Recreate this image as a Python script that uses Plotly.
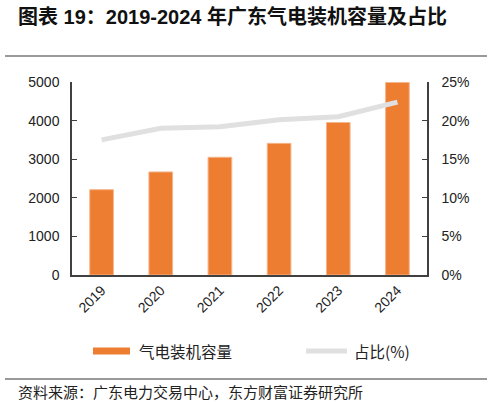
import plotly.graph_objs as go

# data
years = ["2019", "2020", "2021", "2022", "2023", "2024"]
capacity = [2210, 2670, 3050, 3410, 3950, 4990]
share = [0.175, 0.190, 0.192, 0.201, 0.205, 0.224]

title_text = "图表 19：2019-2024 年广东气电装机容量及占比"
source_text = "资料来源：广东电力交易中心，东方财富证券研究所"
bar_name = "气电装机容量"
line_name = "占比(%)"

W, H = 492, 403
L, R, T, B = 72, 427, 82, 275   # plot area in pixels

ORANGE = "#ED7D31"
LGREY = "#E0E0E0"
FONT = "Liberation Sans, Arial, Noto Sans CJK SC, sans-serif"


# pixel -> paper coordinates
def px(x):
    return (x - L) / (R - L)

def py(y):
    return (B - y) / (B - T)


bar_data = go.Bar(x=years, y=capacity, name=bar_name, width=0.4,
                  marker=dict(color=ORANGE, line=dict(color="#F6B48A", width=1)),
                  showlegend=False)
line_data = go.Scatter(x=years, y=share, name=line_name, yaxis="y2", mode="lines",
                       line=dict(color=LGREY, width=5), showlegend=False)

layout = go.Layout(
    width=W, height=H,
    margin=dict(l=L, r=W - R, t=T, b=H - B, pad=0),
    paper_bgcolor="white", plot_bgcolor="white",
    font=dict(family=FONT, size=14, color="#222"),
    xaxis=dict(showline=True, linecolor="#404040", linewidth=1.5, ticks="",
               tickangle=-45, showgrid=False, zeroline=False,
               tickfont=dict(size=14, color="#222")),
    yaxis=dict(range=[0, 5000], dtick=1000, showline=True, linecolor="#404040",
               linewidth=1.5, ticks="inside", ticklen=5, tickcolor="#404040",
               showgrid=False, zeroline=False, ticklabelstandoff=8,
               tickfont=dict(size=14, color="#222")),
    yaxis2=dict(range=[0, 0.25], dtick=0.05, tickformat=".0%", overlaying="y",
                side="right", showline=True, linecolor="#404040", linewidth=1.5,
                ticks="inside", ticklen=5, tickcolor="#404040", showgrid=False,
                zeroline=False, ticklabelstandoff=10,
                tickfont=dict(size=14, color="#222")),
)

fig = go.Figure(data=[bar_data, line_data], layout=layout)

# separator lines at top and bottom
for yy in (56, 379):
    fig.add_shape(type="line", xref="paper", yref="paper",
                  x0=px(5), x1=px(487), y0=py(yy), y1=py(yy),
                  line=dict(color="#999999", width=2))

# hand drawn legend
fig.add_shape(type="rect", xref="paper", yref="paper",
              x0=px(93), x1=px(130), y0=py(354.5), y1=py(347.5),
              line=dict(width=0), fillcolor=ORANGE)
fig.add_shape(type="line", xref="paper", yref="paper",
              x0=px(306), x1=px(347), y0=py(351), y1=py(351),
              line=dict(color=LGREY, width=5))
fig.add_annotation(text=bar_name, xref="paper", yref="paper", x=px(137), y=py(351),
                   xanchor="left", yanchor="middle", showarrow=False,
                   font=dict(family="Noto Sans CJK SC", size=15.5, color="#222"))
fig.add_annotation(text=line_name, xref="paper", yref="paper", x=px(352), y=py(351),
                   xanchor="left", yanchor="middle", showarrow=False,
                   font=dict(family="Noto Sans CJK SC", size=15.5, color="#222"))

# title and source
fig.add_annotation(text="<b>" + title_text + "</b>", xref="paper", yref="paper",
                   x=px(16), y=py(17), xanchor="left", yanchor="middle", showarrow=False,
                   font=dict(family="Liberation Sans, Noto Sans CJK SC", size=20, color="#111"))
fig.add_annotation(text=source_text, xref="paper", yref="paper",
                   x=px(16), y=py(391), xanchor="left", yanchor="middle", showarrow=False,
                   font=dict(family="Noto Sans CJK SC", size=15, color="#222"))

# page body has a default 8px margin; drop it so the figure sits at 0,0
fig.write_html("out.html", config={"displayModeBar": False},
               post_script="document.body.style.margin='0px';")
